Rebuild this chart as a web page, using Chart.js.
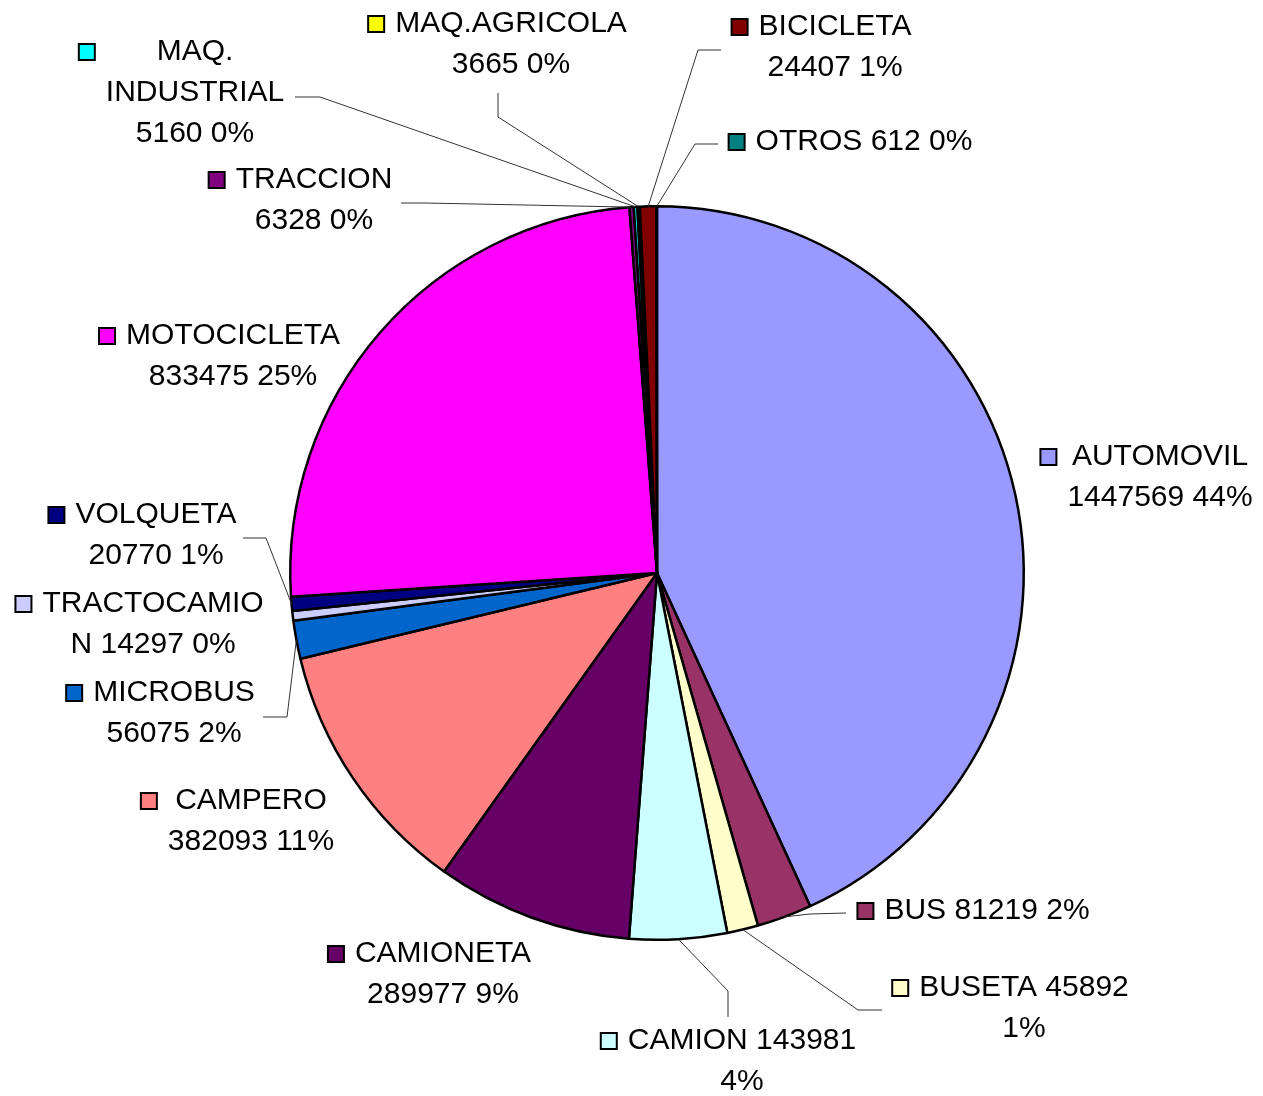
<!DOCTYPE html>
<html>
<head>
<meta charset="utf-8">
<title>Vehiculos por clase</title>
<script src="https://cdn.jsdelivr.net/npm/chart.js@4.4.1/dist/chart.umd.min.js"></script>
<style>
  html, body { margin: 0; padding: 0; background: #fff; }
  #wrap { width: 1263px; height: 1096px; }
</style>
</head>
<body>
<div id="wrap"><canvas id="pieChart" width="1263" height="1096"></canvas></div>
<script>
// datos
const clases = ["AUTOMOVIL", "BUS", "BUSETA", "CAMION", "CAMIONETA", "CAMPERO", "MICROBUS",
    "TRACTOCAMION", "VOLQUETA", "MOTOCICLETA", "TRACCION", "MAQ. INDUSTRIAL", "MAQ.AGRICOLA",
    "BICICLETA", "OTROS"];
const cantidades = [1447569, 81219, 45892, 143981, 289977, 382093, 56075,
    14297, 20770, 833475, 6328, 5160, 3665, 24407, 612];
const porcentajes = [44, 2, 1, 4, 9, 11, 2, 0, 1, 25, 0, 0, 0, 1, 0];

const colores = ["#9999FF", "#993366", "#FFFFCC", "#CCFFFF", "#660066", "#FF8080", "#0066CC",
    "#CCCCFF", "#000080", "#FF00FF", "#800080", "#00FFFF", "#FFFF00", "#800000", "#008080"];

// posicion de cada etiqueta: centro del texto, centro de la primera linea, ancho de ajuste,
// y la linea guia (punto junto a la etiqueta, codo)
const etiquetas = [
    { cx: 1160, y: 457, wrap: 230 },
    { cx: 987, y: 911, wrap: 300, guia: [[846, 913], [810, 914]] },
    { cx: 1024, y: 988, wrap: 240, guia: [[882, 1010], [858, 1010]] },
    { cx: 742, y: 1041, wrap: 250, guia: [[728, 1017], [728, 991]] },
    { cx: 443, y: 954, wrap: 210 },
    { cx: 251, y: 801, wrap: 200 },
    { cx: 174, y: 693, wrap: 200, guia: [[263, 717], [287, 717]] },
    { cx: 153, y: 604, wrap: 232 },
    { cx: 156, y: 515, wrap: 200, guia: [[243, 538], [266, 538]] },
    { cx: 233, y: 336, wrap: 240 },
    { cx: 314, y: 180, wrap: 200, guia: [[401, 203], [425, 203]] },
    { cx: 195, y: 52, wrap: 200, guia: [[295, 97], [320, 97]] },
    { cx: 511, y: 24, wrap: 250, guia: [[498, 93], [498, 117]] },
    { cx: 835, y: 27, wrap: 200, guia: [[721, 50], [698, 50]] },
    { cx: 864, y: 142, wrap: 300, guia: [[718, 144], [695, 144]] }
];

const FUENTE = "30px 'Liberation Sans', Arial, sans-serif";
const ALTO_LINEA = 41;
const CUADRO = 16;
const SEP = 11;

function partirTexto(ctx, texto, maxAncho) {
    const lineas = [];
    let actual = "";
    texto.split(" ").forEach(function (pal) {
        const prueba = actual ? actual + " " + pal : pal;
        if (ctx.measureText(prueba).width <= maxAncho) {
            actual = prueba;
            return;
        }
        if (actual) lineas.push(actual);
        actual = "";
        // palabra demasiado larga: cortar por caracteres
        let trozo = "";
        for (const ch of pal) {
            if (ctx.measureText(trozo + ch).width > maxAncho && trozo) {
                lineas.push(trozo);
                trozo = ch;
            } else {
                trozo += ch;
            }
        }
        actual = trozo;
    });
    if (actual) lineas.push(actual);
    return lineas;
}

const etiquetasPlugin = {
    id: "etiquetasPlugin",
    afterDraw(chart) {
        const ctx = chart.ctx;
        const meta = chart.getDatasetMeta(0);
        ctx.save();
        ctx.font = FUENTE;
        ctx.textBaseline = "middle";
        ctx.textAlign = "center";

        meta.data.forEach(function (arc, i) {
            const et = etiquetas[i];
            const p = arc.getProps(["x", "y", "startAngle", "endAngle", "outerRadius"], true);

            // linea guia desde el borde del sector
            if (et.guia) {
                const medio = (p.startAngle + p.endAngle) / 2;
                const ax = p.x + Math.cos(medio) * p.outerRadius;
                const ay = p.y + Math.sin(medio) * p.outerRadius;
                ctx.beginPath();
                ctx.moveTo(et.guia[0][0], et.guia[0][1]);
                ctx.lineTo(et.guia[1][0], et.guia[1][1]);
                ctx.lineTo(ax, ay);
                ctx.strokeStyle = "#333";
                ctx.lineWidth = 1;
                ctx.stroke();
            }

            const texto = clases[i] + " " + cantidades[i] + " " + porcentajes[i] + "%";
            const lineas = partirTexto(ctx, texto, et.wrap);
            let ancho = 0;
            lineas.forEach(function (l) { ancho = Math.max(ancho, ctx.measureText(l).width); });

            ctx.fillStyle = "#000";
            lineas.forEach(function (l, k) {
                ctx.fillText(l, et.cx, et.y + k * ALTO_LINEA);
            });

            // cuadro de color (clave de leyenda)
            const qx = et.cx - ancho / 2 - SEP - CUADRO;
            const qy = et.y - CUADRO / 2;
            ctx.fillStyle = colores[i];
            ctx.fillRect(qx, qy, CUADRO, CUADRO);
            ctx.lineWidth = 2;
            ctx.strokeStyle = "#000";
            ctx.strokeRect(qx, qy, CUADRO, CUADRO);
        });
        ctx.restore();
    }
};

document.addEventListener("DOMContentLoaded", function () {
    const ctx = document.getElementById("pieChart").getContext("2d");

    new Chart(ctx, {
        type: "pie",
        data: {
            labels: clases,
            datasets: [{
                data: cantidades,
                backgroundColor: colores,
                borderColor: "#000",
                borderWidth: 2.5
            }]
        },
        options: {
            responsive: false,
            maintainAspectRatio: false,
            animation: false,
            layout: {
                padding: { left: 289, top: 205, right: 238, bottom: 155 }
            },
            plugins: {
                legend: { display: false },
                tooltip: { enabled: false }
            }
        },
        plugins: [etiquetasPlugin]
    });
});
</script>
</body>
</html>
